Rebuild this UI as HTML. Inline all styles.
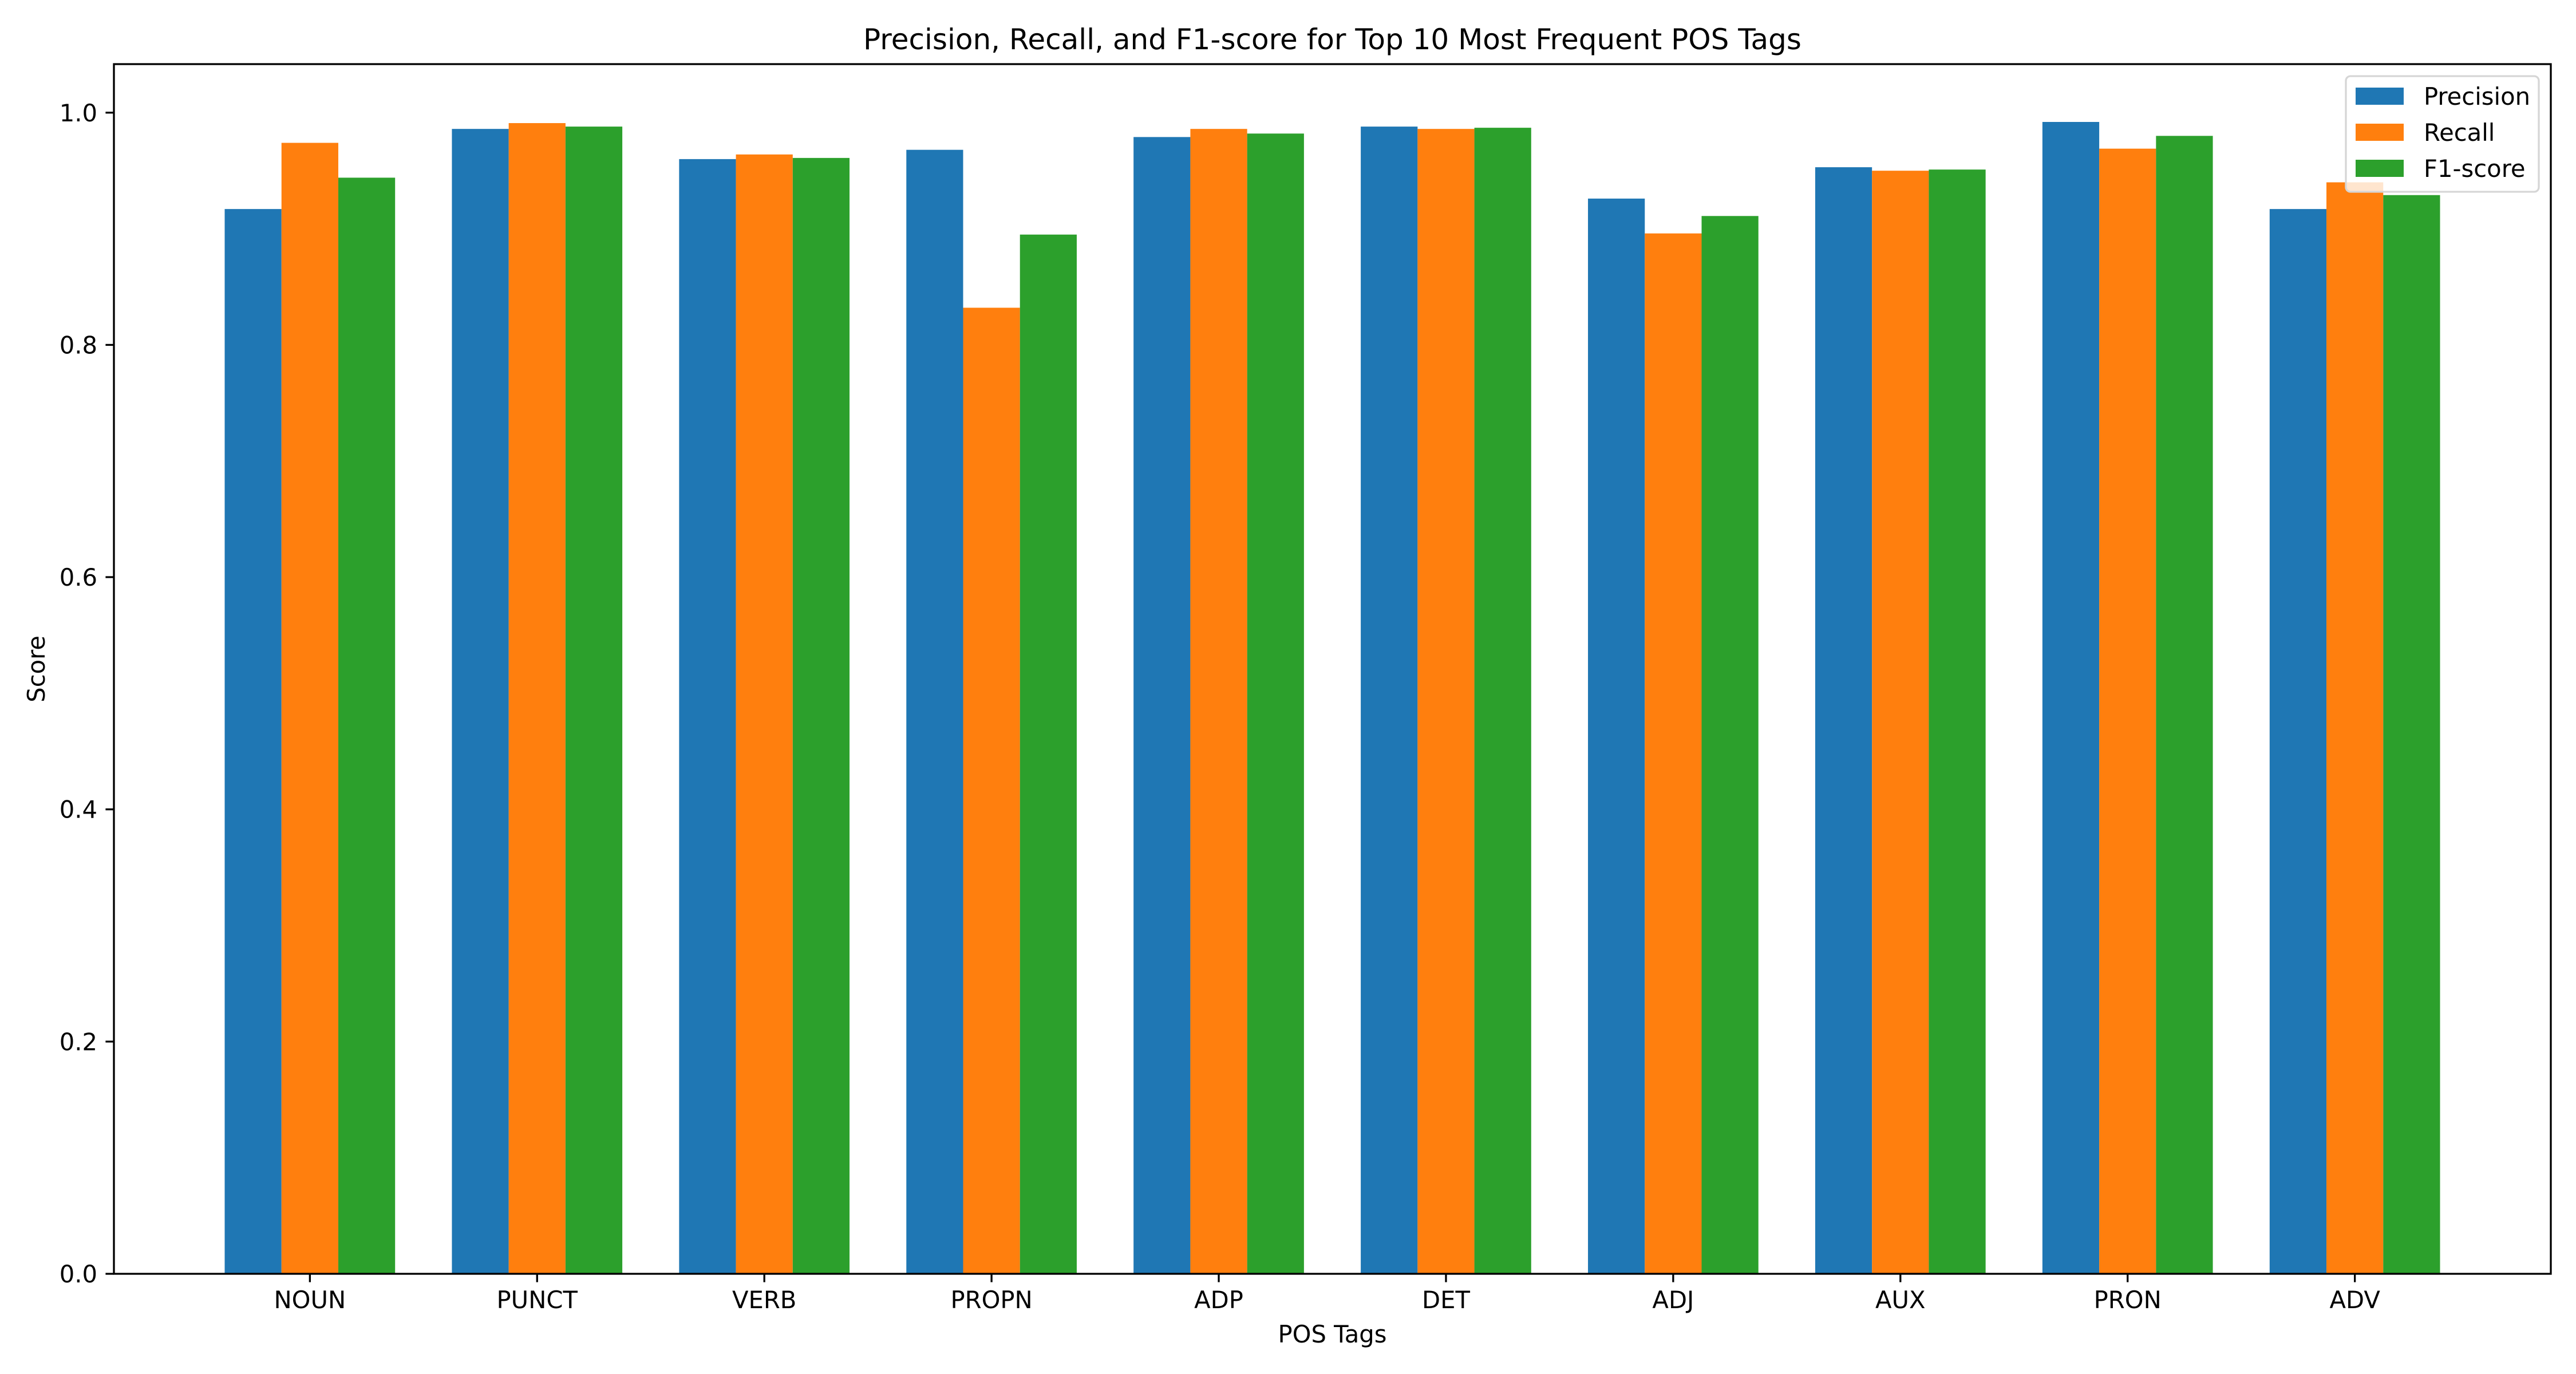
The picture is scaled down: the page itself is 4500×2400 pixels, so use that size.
<!DOCTYPE html>
<html><head><meta charset="utf-8"><style>
html,body{margin:0;padding:0;background:#fff;}
svg{display:block;font-family:"DejaVu Sans","Liberation Sans",sans-serif;}
</style></head><body>
<svg id="chart" width="4500" height="2400" viewBox="0 0 4500 2400" xmlns="http://www.w3.org/2000/svg">
<rect width="4500" height="2400" fill="#fff"/>
<g id="bars"></g>
<g id="axes"></g>
</svg>
<script>
const categories = ["NOUN","PUNCT","VERB","PROPN","ADP","DET","ADJ","AUX","PRON","ADV"];
const precision = [0.917,0.986,0.960,0.968,0.979,0.988,0.926,0.953,0.992,0.917];
const recall    = [0.974,0.991,0.964,0.832,0.986,0.986,0.896,0.950,0.969,0.940];
const f1score   = [0.944,0.988,0.961,0.895,0.982,0.987,0.911,0.951,0.980,0.929];
const yTicks = [0.0,0.2,0.4,0.6,0.8,1.0];
const seriesNames = ["Precision","Recall","F1-score"];

const NS="http://www.w3.org/2000/svg";
const L=199,R=4456,T=112,B=2225;
const xmin=-0.8625,xmax=9.8625;
const ymax=1.0418;
const xs=v=>L+(v-xmin)/(xmax-xmin)*(R-L);
const ys=v=>B-v/ymax*(B-T);
const colors=["#1f77b4","#ff7f0e","#2ca02c"];
const series=[precision,recall,f1score];
const w=0.25;
function mk(tag,attrs,parent){const e=document.createElementNS(NS,tag);for(const k in attrs)e.setAttribute(k,attrs[k]);parent.appendChild(e);return e;}
const svg=document.getElementById('chart');
const bars=document.getElementById('bars');
const axes=document.getElementById('axes');
series.forEach((s,si)=>{
  s.forEach((v,i)=>{
    const c=i+(si-1)*w;
    const r=mk('rect',{x:xs(c-w/2),y:ys(v),width:xs(c+w/2)-xs(c-w/2),height:ys(0)-ys(v),fill:colors[si]},bars);
    
    
  });
});
// spines
const fr=mk('rect',{x:L,y:T,width:R-L,height:B-T,fill:'none',stroke:'#000','stroke-width':3.3},axes);


yTicks.forEach(t=>{
  const y=ys(t);
  const tk=mk('line',{x1:L-14.6,x2:L,y1:y,y2:y,stroke:'#000','stroke-width':3.3},axes);
  
  
  const tx=mk('text',{x:L-29,y:y+15,'text-anchor':'end','font-size':41.7},axes);
  tx.textContent=t.toFixed(1);
  
  
});
categories.forEach((c,i)=>{
  const x=xs(i);
  const tk=mk('line',{x1:x,x2:x,y1:B,y2:B+14.6,stroke:'#000','stroke-width':3.3},axes);
  
  
  const tx=mk('text',{x:x,y:2285,'text-anchor':'middle','font-size':41.7},axes);
  tx.textContent=c;
  
  
});
const title=mk('text',{x:(L+R)/2,y:86,'text-anchor':'middle','font-size':50},axes);
title.textContent="Precision, Recall, and F1-score for Top 10 Most Frequent POS Tags";


const xl=mk('text',{x:(L+R)/2,y:2345,'text-anchor':'middle','font-size':41.7},axes);
xl.textContent="POS Tags";


const yl=mk('text',{x:0,y:0,'text-anchor':'middle','font-size':41.7,transform:`translate(78,${(T+B)/2}) rotate(-90)`},axes);
yl.textContent="Score";


// legend
const lg=mk('g',{},axes);


mk('rect',{x:4098,y:133,width:337,height:202,rx:8,fill:'#fff','fill-opacity':0.8,stroke:'#d6d6d6','stroke-width':3.3},lg);
const rows=[168,231,294];
seriesNames.forEach((n,i)=>{
  const p=mk('rect',{x:4115,y:rows[i]-15,width:84,height:30,fill:colors[i]},lg);
  
  
  const t=mk('text',{x:4234,y:rows[i]+15,'font-size':41.7},lg);
  t.textContent=n;
  
  
});
</script>
</body></html>
